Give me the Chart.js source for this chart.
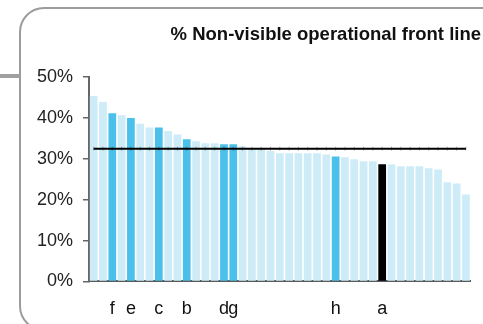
<!DOCTYPE html>
<html>
<head>
<meta charset="utf-8">
<script src="https://cdn.jsdelivr.net/npm/chart.js@4.4.1/dist/chart.umd.min.js"></script>
<style>
  html, body { margin: 0; padding: 0; background: #fff; overflow: hidden; }
  .wrap { position: relative; width: 483px; height: 324px; }
  .frame {
    position: absolute; left: 19px; top: 7px; width: 540px; height: 320px;
    border: 2px solid #9c9c9c; border-radius: 25px;
  }
  .connector { position: absolute; left: 0; top: 74px; width: 20px; height: 4px; background: #a0a0a0; }
  canvas { position: absolute; left: 0; top: 0; }
</style>
</head>
<body>
<div class="wrap">
  <div class="frame"></div>
  <div class="connector"></div>
  <canvas id="chart" width="483" height="324"></canvas>
</div>
<script>
const categories = ['', '', 'f', '', 'e', '', '', 'c', '', '', 'b', '', '', '', 'd', 'g', '', '', '', '', '',
  '', '', '', '', '', 'h', '', '', '', '', 'a', '', '', '', '', '', '', '', '', ''];
const shares = [45.4, 43.9, 41.2, 40.7, 40.0, 38.6, 37.7, 37.7, 36.8, 36.0, 34.8, 34.3, 33.8, 33.8, 33.6, 33.6,
  33.1, 32.5, 32.5, 31.9, 31.4, 31.4, 31.4, 31.4, 31.4, 31.1, 30.6, 30.4, 29.9, 29.4, 29.4, 28.7, 28.7,
  28.2, 28.2, 28.2, 27.7, 27.4, 24.3, 24.0, 21.3];
const average = categories.map(() => 32.5);
const yTicks = [0, 10, 20, 30, 40, 50];

const LIGHT = '#cdecf8';
const HIGHLIGHT = '#4bc0ea';
const SELF = '#000000';

function barColors(labels) {
  return labels.map((label) => {
    if (label === 'a') return SELF;
    if (label) return HIGHLIGHT;
    return LIGHT;
  });
}

const ctx = document.getElementById('chart').getContext('2d');

new Chart(ctx, {
  type: 'bar',
  data: {
    labels: categories,
    datasets: [
      {
        type: 'line',
        data: average,
        borderColor: '#000',
        borderWidth: 2,
        pointStyle: 'line',
        rotation: 90,
        pointRadius: 2,
        pointBorderWidth: 1,
        pointBorderColor: 'rgba(0,0,0,0.3)',
        order: 0,
      },
      {
        data: shares,
        backgroundColor: barColors(categories),
        categoryPercentage: 1,
        barPercentage: 0.83,
        order: 1,
      },
    ],
  },
  options: {
    responsive: false,
    animation: false,
    layout: { padding: { left: 27, right: 2, top: 0, bottom: -13 } },
    plugins: {
      legend: { display: false },
      tooltip: { enabled: false },
      title: {
        display: true,
        text: '% Non-visible operational front line',
        align: 'end',
        color: '#111',
        font: { family: 'Liberation Sans, Arial, sans-serif', size: 18.5, weight: 'bold' },
        padding: { top: 24, bottom: 31 },
      },
    },
    scales: {
      x: {
        grid: { display: false, drawTicks: false },
        border: { display: true, color: '#5a5a5a', width: 2 },
        ticks: {
          autoSkip: false,
          maxRotation: 0,
          padding: 17,
          color: '#111',
          font: { family: 'Liberation Sans, Arial, sans-serif', size: 18 },
        },
      },
      y: {
        min: 0,
        max: 50,
        afterBuildTicks: (scale) => { scale.ticks = yTicks.map((v) => ({ value: v })); },
        grid: { drawOnChartArea: false, color: '#666', tickLength: 6, lineWidth: 1.5 },
        border: { display: true, color: '#666', width: 2 },
        ticks: {
          padding: 10,
          color: '#222',
          callback: (v) => v + '%',
          font: { family: 'Liberation Sans, Arial, sans-serif', size: 18 },
        },
      },
    },
  },
});
</script>
</body>
</html>
